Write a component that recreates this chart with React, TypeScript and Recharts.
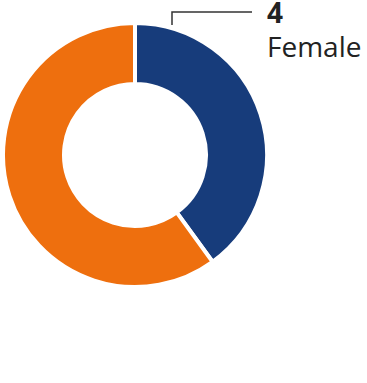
import { PieChart, Pie, Cell } from "recharts"

const genders = ["Female", "Male"]
const counts = [4, 6]
const colors = ["#173c7b", "#ee6f0e"]

const data = genders.map((name, i) => ({ name, value: counts[i] }))

// only the Female slice carries a callout
const renderLabel = (props: any) => {
  const { cx, cy, outerRadius, index, value, name } = props
  if (index !== 0) return null
  const x0 = cx + 37
  const y0 = cy - outerRadius + 2
  const yTop = 12
  const x1 = cx + 117
  return (
    <g>
      <polyline
        points={`${x0},${y0} ${x0},${yTop} ${x1},${yTop}`}
        fill="none"
        stroke="#333"
        strokeWidth={1.5}
      />
      <text x={x1 + 15} y={23} fontSize={28} fontWeight={700} fill="#222" fontFamily="'Open Sans', sans-serif">
        {value}
      </text>
      <text x={x1 + 15} y={57} fontSize={28} fill="#222" fontFamily="'Open Sans', sans-serif">
        {name}
      </text>
    </g>
  )
}

export default function App() {
  return (
    <div style={{ position: "absolute", left: 0, top: 0, background: "#fff" }}>
      <PieChart width={367} height={383} margin={{ top: 0, right: 0, bottom: 0, left: 0 }}>
        <Pie
          data={data}
          dataKey="value"
          nameKey="name"
          cx={135}
          cy={155}
          innerRadius={71}
          outerRadius={132}
          startAngle={90}
          endAngle={-270}
          stroke="#fff"
          strokeWidth={4}
          label={renderLabel}
          labelLine={false}
          isAnimationActive={false}
        >
          {data.map((d, i) => (
            <Cell key={d.name} fill={colors[i]} />
          ))}
        </Pie>
      </PieChart>
    </div>
  )
}
